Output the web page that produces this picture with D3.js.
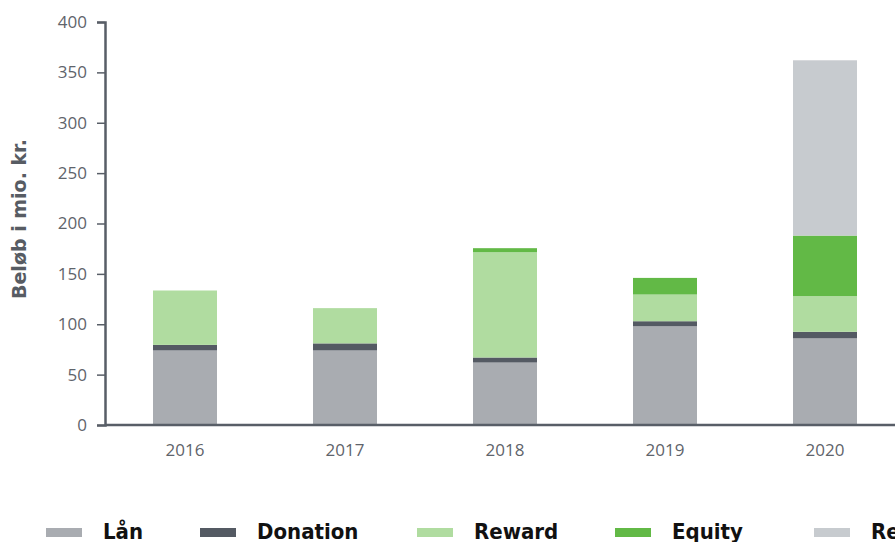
<!DOCTYPE html>
<html lang="da">
<head>
<meta charset="UTF-8">
<title>Crowdfunding</title>
<script src="https://d3js.org/d3.v7.min.js"></script>
<style>
  body { margin: 0; background: #fff; }
  svg { display: block; }
</style>
</head>
<body>
<script>
// data (mio. kr.)
var years = ["2016", "2017", "2018", "2019", "2020"];
var laan     = [74, 74, 62, 98, 86];
var donation = [5.5, 7, 5, 5, 6.5];
var reward   = [54, 35, 104.5, 26.5, 35.5];
var equity   = [0, 0, 4, 16.5, 60];
var realEst  = [0, 0, 0, 0, 174];
var seriesNames = ["Lån", "Donation", "Reward", "Equity", "Real estate"];
var yTicks = [0, 50, 100, 150, 200, 250, 300, 350, 400];

var colors = ["#a9acb1", "#545a63", "#b0dca0", "#62b946", "#c7cbcf"];

var width = 895, height = 542;
var plotLeft = 105, plotTop = 22, plotBottom = 425;

// rows for d3.stack
var rows = years.map(function(yr, i) {
  return {year: yr, "Lån": laan[i], "Donation": donation[i], "Reward": reward[i],
          "Equity": equity[i], "Real estate": realEst[i]};
});
var stacked = d3.stack().keys(seriesNames)(rows);

var svg = d3.select("body").append("svg")
  .attr("width", width)
  .attr("height", height);

var x = d3.scaleBand()
  .domain(years)
  .range([plotLeft, plotLeft + 800])
  .paddingInner(0.6)
  .paddingOuter(0.3);

var y = d3.scaleLinear()
  .domain([0, 400])
  .range([plotBottom, plotTop]);

// bars
svg.append("g").selectAll("g")
  .data(stacked)
  .enter().append("g")
  .attr("fill", function(d, i) { return colors[i]; })
  .selectAll("rect")
  .data(function(d) { return d; })
  .enter().append("rect")
  .attr("x", function(d) { return x(d.data.year); })
  .attr("width", x.bandwidth())
  .attr("y", function(d) { return y(d[1]); })
  .attr("height", function(d) { return Math.max(0, y(d[0]) - y(d[1])); });

// y axis
var yAxis = svg.append("g")
  .attr("transform", "translate(" + plotLeft + ",0)")
  .call(d3.axisLeft(y).tickValues(yTicks).tickSize(8).tickPadding(10));
yAxis.select(".domain").attr("stroke", "#585e67").attr("stroke-width", 2.5);
yAxis.selectAll(".tick line").attr("stroke", "#585e67").attr("stroke-width", 1.5);
yAxis.selectAll(".tick text")
  .attr("fill", "#5f646b")
  .style("font-family", "'Open Sans', sans-serif")
  .style("font-size", "17px");

// x axis
var xAxis = svg.append("g")
  .attr("transform", "translate(0," + plotBottom + ")")
  .call(d3.axisBottom(x).tickSize(0).tickPadding(19));
xAxis.select(".domain").remove();
xAxis.append("line")
  .attr("x1", plotLeft).attr("x2", width)
  .attr("stroke", "#585e67").attr("stroke-width", 2.5);
xAxis.selectAll(".tick text")
  .attr("fill", "#5f646b")
  .style("font-family", "'Open Sans', sans-serif")
  .style("font-size", "17px");

// y title
svg.append("text")
  .attr("transform", "translate(26,219) rotate(-90)")
  .attr("text-anchor", "middle")
  .attr("fill", "#575c63")
  .style("font-family", "'DejaVu Sans', sans-serif")
  .style("font-weight", "bold")
  .style("font-size", "19px")
  .text("Beløb i mio. kr.");

// legend
var legendX = [46, 200, 417, 615, 814];
var legend = svg.append("g").selectAll("g")
  .data(seriesNames)
  .enter().append("g")
  .attr("transform", function(d, i) { return "translate(" + legendX[i] + ",0)"; });
legend.append("rect")
  .attr("y", 528).attr("width", 36).attr("height", 9)
  .attr("fill", function(d, i) { return colors[i]; });
legend.append("text")
  .attr("x", 57).attr("y", 539)
  .attr("fill", "#111")
  .style("font-family", "'DejaVu Sans Condensed', 'DejaVu Sans', sans-serif")
  .style("font-stretch", "condensed")
  .style("font-weight", "bold")
  .style("font-size", "22px")
  .text(function(d) { return d; });
</script>
</body>
</html>
